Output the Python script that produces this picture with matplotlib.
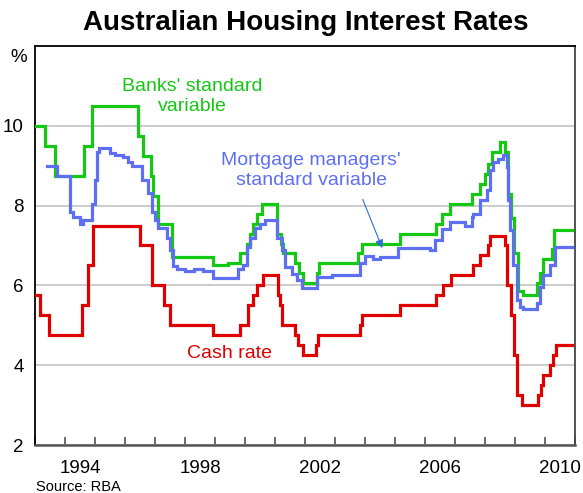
import numpy as np
import matplotlib
matplotlib.use("Agg")
import matplotlib.pyplot as plt

plt.rcParams['font.family'] = ['Liberation Sans', 'DejaVu Sans']

# Step-change dates (decimal years) and rates, %
cash_dates = [1993.0, 1993.16, 1993.48, 1994.56, 1994.76, 1994.92, 1996.5, 1996.89, 1997.31, 1997.5,
              1998.94, 1999.83, 2000.11, 2000.26, 2000.41, 2000.61, 2001.11, 2001.17, 2001.22, 2001.67,
              2001.78, 2001.94, 2002.36, 2002.44, 2003.83, 2003.89, 2005.17, 2006.36, 2006.61, 2006.85,
              2007.6, 2007.83, 2008.11, 2008.17, 2008.68, 2008.72, 2008.86, 2008.95, 2009.08, 2009.22,
              2009.78, 2009.86, 2009.92, 2010.17, 2010.28, 2010.36]
cash_rate = [5.75, 5.25, 4.75, 5.5, 6.5, 7.5, 7.0, 6.0, 5.5, 5.0,
             4.75, 5.0, 5.5, 5.75, 6.0, 6.25, 5.75, 5.5, 5.0, 4.75,
             4.5, 4.25, 4.5, 4.75, 5.0, 5.25, 5.5, 5.75, 6.0, 6.25,
             6.5, 6.75, 7.0, 7.25, 7.0, 6.0, 5.25, 4.25, 3.25, 3.0,
             3.25, 3.5, 3.75, 4.0, 4.25, 4.5]

bank_dates = [1993.0, 1993.33, 1993.67, 1994.63, 1994.91, 1996.42, 1996.59, 1996.87, 1996.94, 1997.11,
              1997.56, 1998.94, 1999.44, 1999.83, 2000.06, 2000.17, 2000.28, 2000.39, 2000.58, 2001.06,
              2001.2, 2001.27, 2001.67, 2001.8, 2001.92, 2002.39, 2002.47, 2003.78, 2003.89, 2005.17,
              2006.36, 2006.58, 2006.83, 2007.56, 2007.83, 2008.0, 2008.11, 2008.22, 2008.5, 2008.67,
              2008.75, 2008.86, 2008.97, 2009.1, 2009.25, 2009.72, 2009.83, 2009.92, 2010.22, 2010.3]
bank_rate = [10.0, 9.5, 8.75, 9.5, 10.5, 9.75, 9.25, 8.75, 8.25, 7.55,
             6.7, 6.5, 6.55, 6.8, 7.05, 7.3, 7.55, 7.8, 8.05, 7.3,
             7.05, 6.8, 6.55, 6.3, 6.05, 6.3, 6.55, 6.8, 7.05, 7.3,
             7.55, 7.8, 8.05, 8.3, 8.55, 8.8, 9.05, 9.35, 9.6, 9.35,
             8.3, 7.7, 6.8, 5.85, 5.75, 6.05, 6.3, 6.65, 6.9, 7.4]

mm_dates = [1993.39, 1993.72, 1994.17, 1994.25, 1994.5, 1994.6, 1994.89, 1995.0, 1995.07, 1995.12,
            1995.5, 1995.67, 1995.94, 1996.11, 1996.22, 1996.56, 1996.78, 1996.89, 1997.0, 1997.11,
            1997.39, 1997.5, 1997.61, 1997.72, 1998.0, 1998.3, 1998.6, 1998.94, 1999.78, 1999.94,
            2000.06, 2000.17, 2000.33, 2000.5, 2000.67, 2001.06, 2001.22, 2001.33, 2001.56, 2001.72,
            2001.89, 2002.39, 2002.89, 2003.83, 2004.0, 2004.28, 2004.5, 2005.11, 2006.17, 2006.33,
            2006.56, 2006.83, 2007.33, 2007.56, 2007.61, 2007.83, 2008.06, 2008.17, 2008.28, 2008.44,
            2008.61, 2008.72, 2008.78, 2008.83, 2008.94, 2009.06, 2009.17, 2009.28, 2009.72, 2009.83,
            2009.94, 2010.17, 2010.33]
mm_rate = [9.0, 8.75, 7.83, 7.72, 7.55, 7.64, 8.05, 8.65, 9.35, 9.44,
           9.31, 9.27, 9.23, 9.1, 9.0, 8.65, 8.31, 7.85, 7.64, 7.45,
           7.18, 6.89, 6.48, 6.4, 6.35, 6.4, 6.35, 6.18, 6.4, 6.5,
           6.97, 7.2, 7.43, 7.54, 7.64, 7.18, 6.89, 6.45, 6.29, 6.14,
           5.93, 6.2, 6.25, 6.55, 6.74, 6.65, 6.7, 6.93, 6.89, 7.14,
           7.41, 7.6, 7.5, 7.72, 7.8, 8.14, 8.39, 8.89, 9.1, 9.18,
           9.27, 8.97, 8.14, 7.39, 6.51, 5.63, 5.47, 5.4, 5.57, 5.97,
           6.26, 6.51, 6.95]

last_date = 2010.89
year_labels = ['1994', '1998', '2002', '2006', '2010']
y_ticks = [2, 4, 6, 8, 10]

green = '#14c814'
blue = '#5e6ff2'
red = '#e00000'

fig = plt.figure(figsize=(5.83, 4.93), dpi=100)
ax = fig.add_axes([35 / 583, 1 - 445 / 493, 540 / 583, 399 / 493])


def draw_step(dates, rates, color):
    x = np.append(dates, last_date)
    y = np.append(rates, rates[-1])
    ax.step(x, y, where='post', color=color, lw=2.3, solid_joinstyle='miter', zorder=3)


draw_step(bank_dates, bank_rate, green)
draw_step(mm_dates, mm_rate, blue)
draw_step(cash_dates, cash_rate, red)

ax.set_xlim(1993, 2011)
ax.set_ylim(2, 12)

# gridlines
ax.set_yticks(y_ticks)
ax.yaxis.grid(True, color='#c8c8c8', lw=1.3)
ax.set_axisbelow(True)
ax.tick_params(axis='y', length=0, pad=8, labelsize=13.5)

# year ticks at year boundaries, labels mid-year
ax.set_xticks(np.arange(1993, 2012))
ax.set_xticklabels([])
ax.tick_params(axis='x', which='major', direction='in', length=6, width=1.1, color='#444444')
ax.set_xticks([int(y) + 0.5 for y in year_labels], year_labels, minor=True)
ax.tick_params(axis='x', which='minor', length=0, pad=11, labelsize=13.5)

for side in ['left', 'top']:
    ax.spines[side].set_color('black')
    ax.spines[side].set_linewidth(1.3)
ax.spines['bottom'].set_color('#555555')
ax.spines['bottom'].set_linewidth(1.8)
ax.spines['right'].set_color('#444444')
ax.spines['right'].set_linewidth(1.3)

ax.text(-0.03, 0.97, '%', transform=ax.transAxes, ha='center', va='center', fontsize=13.5)

ax.text(1998.23, 11.19, "Banks' standard\nvariable", color=green, fontsize=14,
        ha='center', va='top', linespacing=1.2)
ax.text(2002.2, 9.34, "Mortgage managers'\nstandard variable", color=blue, fontsize=14,
        ha='center', va='top', linespacing=1.2)
ax.text(1999.48, 4.19, 'Cash rate', color=red, fontsize=14, ha='center', va='baseline')
ax.annotate('', xy=(2004.61, 6.87), xytext=(2003.89, 8.22),
            arrowprops=dict(arrowstyle='-|>', color='#2f6fd0', lw=0.8, mutation_scale=12))

fig.text(0.525, 1 - 23.5 / 493, 'Australian Housing Interest Rates', ha='center', va='center',
         fontsize=20, fontweight='bold')
fig.text(36 / 583, 1 - 487 / 493, 'Source: RBA', ha='left', va='center', fontsize=10.5)

fig.savefig('out.png', dpi=100)
